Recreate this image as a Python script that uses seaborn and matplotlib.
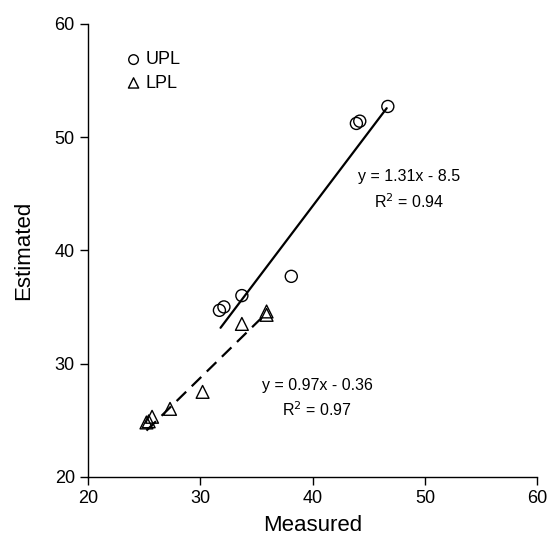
import matplotlib
matplotlib.use("Agg")
import matplotlib.pyplot as plt
import seaborn as sns
import numpy as np
import pandas as pd

# Data
upl_measured = [31.7, 32.1, 33.7, 38.1, 43.9, 44.2, 46.7]
upl_estimated = [34.7, 35.0, 36.0, 37.7, 51.2, 51.4, 52.7]
lpl_measured = [25.2, 25.4, 25.7, 27.3, 30.2, 33.7, 35.9, 35.9]
lpl_estimated = [24.8, 24.9, 25.3, 26.0, 27.5, 33.5, 34.6, 34.3]

upl_fit = {"slope": 1.31, "intercept": -8.5, "xmin": 31.8, "xmax": 46.6}
lpl_fit = {"slope": 0.97, "intercept": -0.36, "xmin": 25.2, "xmax": 35.6}

x_ticks = [20, 30, 40, 50, 60]
y_ticks = [20, 30, 40, 50, 60]

sns.set_theme(style="ticks")
plt.rcParams["font.family"] = ["Liberation Sans", "DejaVu Sans"]
plt.rcParams["text.color"] = "black"
plt.rcParams["axes.labelcolor"] = "black"

fig = plt.figure(figsize=(5.47, 5.40), dpi=100)
ax = fig.add_axes([0.161, 0.117, 0.821, 0.839])

df_u = pd.DataFrame({"Measured": upl_measured, "Estimated": upl_estimated})
df_l = pd.DataFrame({"Measured": lpl_measured, "Estimated": lpl_estimated})

sns.scatterplot(data=df_u, x="Measured", y="Estimated", marker="o", s=75,
                facecolor="none", edgecolor="black", linewidth=1.0, ax=ax,
                label="UPL", zorder=3)
sns.scatterplot(data=df_l, x="Measured", y="Estimated", marker="^", s=85,
                facecolor="none", edgecolor="black", linewidth=1.0, ax=ax,
                label="LPL", zorder=3)

for fit, ls in [(upl_fit, "-"), (lpl_fit, (0, (6, 3.5)))]:
    xs = np.array([fit["xmin"], fit["xmax"]])
    ys = fit["slope"] * xs + fit["intercept"]
    sns.lineplot(x=xs, y=ys, color="black", linewidth=1.6, linestyle=ls, ax=ax,
                 legend=False, zorder=2)

eq_fs = 11.5
ax.text(48.6, 46.5, "y = 1.31x - 8.5", ha="center", va="center", fontsize=eq_fs)
ax.text(48.6, 44.3, "R$^2$ = 0.94", ha="center", va="center", fontsize=eq_fs)
ax.text(40.4, 28.1, "y = 0.97x - 0.36", ha="center", va="center", fontsize=eq_fs)
ax.text(40.4, 25.9, "R$^2$ = 0.97", ha="center", va="center", fontsize=eq_fs)

ax.set_xlim(20, 60)
ax.set_ylim(20, 60)
ax.set_xticks(x_ticks)
ax.set_yticks(y_ticks)
ax.tick_params(direction="out", length=6, width=1, labelsize=13, colors="black")
ax.set_xlabel("Measured", fontsize=16, labelpad=6)
ax.set_ylabel("Estimated", fontsize=16, labelpad=15)
sns.despine(ax=ax)
for sp in ["left", "bottom"]:
    ax.spines[sp].set_linewidth(1.0)
    ax.spines[sp].set_color("black")

leg = ax.legend(loc="upper left", bbox_to_anchor=(0.045, 0.975), frameon=False,
                fontsize=13, handletextpad=0.15, labelspacing=0.35, markerscale=0.8,
                handlelength=1.0)

fig.savefig("out.png", dpi=100)
